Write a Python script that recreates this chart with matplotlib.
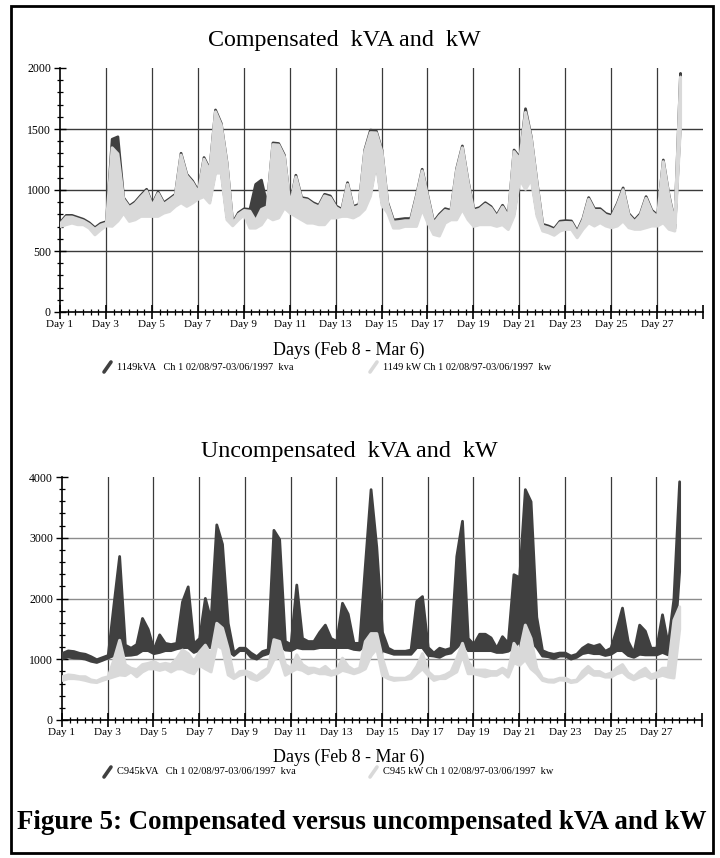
import numpy as np
import matplotlib.pyplot as plt
from matplotlib.ticker import MultipleLocator, FixedLocator
from matplotlib.lines import Line2D
from matplotlib.patches import Rectangle

plt.rcParams['font.family'] = ['Liberation Serif', 'DejaVu Serif']

# time axis: every 6 hours, Day 1 -> Day 28
days = np.arange(1, 28.001, 0.25)

# each series given as low / high envelope over the 6 h bins
# compensated (meter 1149)
top_kva_hi = [740, 796, 796, 780, 764, 736, 695, 730, 745, 1420, 1440, 940,
              873, 906, 960, 1010, 887, 988, 900, 933, 969, 1305, 1133, 1078,
              996, 1270, 1174, 1660, 1550, 1229, 736, 818, 850, 845, 1050, 1085,
              880, 1390, 1385, 1290, 887, 1125, 942, 933, 900, 879, 969, 955,
              873, 846, 1064, 868, 887, 1332, 1495, 1488, 1330, 900, 758, 764,
              770, 770, 960, 1174, 955, 742, 805, 851, 838, 1179, 1365, 1078,
              846, 860, 900, 868, 797, 879, 797, 1332, 1270, 1670, 1440, 1070,
              723, 709, 688, 748, 753, 750, 668, 770, 942, 851, 851, 811,
              797, 895, 1021, 810, 758, 810, 950, 838, 797, 1250, 960, 742,
              1960]
top_kva_lo = [725, 740, 750, 740, 740, 710, 655, 700, 730, 730, 770, 835,
              765, 780, 805, 805, 805, 805, 835, 845, 890, 920, 890, 915,
              950, 970, 915, 1160, 1160, 780, 730, 780, 820, 710, 760, 790,
              805, 780, 795, 875, 835, 805, 780, 750, 750, 740, 740, 795,
              795, 805, 805, 795, 820, 865, 975, 1245, 900, 835, 712, 712,
              725, 725, 725, 865, 750, 660, 645, 750, 780, 780, 865, 780,
              725, 740, 740, 740, 725, 740, 700, 810, 1110, 1030, 1110, 810,
              688, 674, 653, 688, 700, 700, 633, 700, 755, 730, 755, 730,
              715, 730, 770, 715, 700, 700, 715, 730, 730, 755, 700, 688,
              1550]
top_kw_hi = [728, 782, 782, 766, 750, 722, 682, 716, 732, 1350, 1300, 926,
             860, 892, 946, 995, 873, 975, 886, 920, 955, 1290, 1120, 1064,
             982, 1256, 1160, 1645, 1535, 1215, 722, 804, 836, 830, 750, 845,
             866, 1376, 1372, 1276, 873, 1110, 928, 920, 886, 865, 955, 940,
             860, 832, 1050, 855, 873, 1318, 1474, 1472, 1316, 886, 740, 745,
             752, 752, 946, 1160, 940, 728, 790, 836, 824, 1165, 1350, 1064,
             832, 846, 886, 854, 783, 865, 783, 1318, 1256, 1640, 1426, 1056,
             708, 694, 674, 734, 738, 736, 654, 756, 928, 836, 836, 796,
             783, 880, 1006, 796, 744, 796, 936, 824, 783, 1236, 946, 728,
             1930]
top_kw_lo = [705, 720, 733, 720, 720, 692, 637, 678, 711, 707, 750, 815,
             747, 760, 788, 788, 788, 788, 815, 828, 870, 900, 870, 897,
             930, 950, 897, 1143, 1143, 760, 711, 760, 800, 692, 692, 719,
             788, 760, 775, 858, 815, 788, 760, 733, 733, 720, 720, 775,
             775, 788, 788, 775, 800, 846, 955, 1228, 880, 815, 692, 692,
             706, 706, 706, 846, 733, 640, 627, 733, 760, 760, 846, 760,
             706, 720, 720, 720, 706, 720, 680, 791, 1092, 1010, 1092, 791,
             668, 654, 633, 668, 682, 682, 613, 682, 736, 709, 736, 709,
             695, 709, 750, 695, 682, 682, 695, 709, 709, 736, 682, 668,
             1530]

# uncompensated (meter C945)
bot_kva_hi = [1105, 1145, 1135, 1105, 1090, 1050, 1000, 1035, 1070, 1900, 2700, 1240,
              1190, 1250, 1680, 1500, 1165, 1410, 1270, 1250, 1270, 1950, 2200, 1260,
              1350, 2010, 1650, 3220, 2900, 1600, 1110, 1190, 1190, 1110, 1050, 1135,
              1165, 3130, 2980, 1300, 1250, 2230, 1350, 1300, 1300, 1450, 1570, 1350,
              1300, 1930, 1750, 1270, 1270, 2550, 3800, 2850, 1450, 1190, 1140, 1140,
              1140, 1160, 1960, 2040, 1200, 1110, 1190, 1160, 1190, 2700, 3280, 1350,
              1250, 1420, 1420, 1360, 1190, 1380, 1270, 2400, 2350, 3800, 3600, 1700,
              1150, 1110, 1090, 1110, 1110, 1060, 1090, 1190, 1250, 1220, 1250, 1140,
              1190, 1500, 1850, 1300, 1110, 1570, 1470, 1190, 1190, 1740, 1250, 2000,
              3930]
bot_kva_lo = [1020, 1045, 1030, 1025, 1010, 975, 955, 990, 1030, 1070, 1200, 1070,
              1075, 1090, 1150, 1150, 1100, 1120, 1150, 1150, 1180, 1200, 1200, 1120,
              1160, 1200, 1200, 1300, 1300, 1150, 1070, 1150, 1150, 1040, 1010, 1070,
              1100, 1250, 1250, 1160, 1150, 1200, 1180, 1180, 1180, 1200, 1200, 1200,
              1200, 1200, 1200, 1170, 1160, 1250, 1400, 1400, 1150, 1120, 1090, 1090,
              1090, 1090, 1200, 1200, 1070, 1060, 1040, 1090, 1110, 1200, 1300, 1150,
              1150, 1150, 1150, 1150, 1120, 1120, 1140, 1200, 1300, 1500, 1300, 1200,
              1060, 1050, 1020, 1060, 1060, 1010, 1040, 1100, 1120, 1100, 1100, 1070,
              1090, 1150, 1150, 1070, 1040, 1090, 1080, 1080, 1080, 1120, 1080, 1100,
              2450]
bot_kw_hi = [720, 750, 740, 720, 720, 667, 650, 695, 720, 1000, 1320, 920,
             860, 835, 920, 940, 970, 920, 940, 920, 1020, 1160, 1100, 970,
             1130, 1240, 1080, 1600, 1520, 1180, 720, 805, 815, 780, 720, 805,
             860, 1330, 1300, 920, 860, 1080, 920, 860, 860, 830, 890, 805,
             830, 1025, 890, 830, 860, 1300, 1430, 1430, 1020, 720, 695, 695,
             695, 750, 890, 1100, 805, 720, 720, 750, 805, 1020, 1270, 970,
             830, 830, 830, 805, 805, 860, 805, 1270, 1130, 1570, 1350, 860,
             695, 665, 665, 695, 695, 650, 665, 805, 890, 805, 805, 750,
             780, 860, 920, 780, 720, 805, 860, 750, 780, 860, 860, 1650,
             1870]
bot_kw_lo = [660, 690, 690, 680, 660, 635, 625, 660, 690, 720, 750, 740,
             800, 720, 800, 850, 850, 825, 850, 800, 850, 850, 800, 770,
             910, 850, 800, 1240, 1180, 750, 690, 745, 770, 690, 660, 715,
             800, 1000, 1050, 745, 800, 850, 825, 770, 800, 770, 770, 745,
             770, 825, 800, 770, 800, 850, 1070, 1180, 740, 690, 660, 670,
             675, 690, 770, 850, 745, 660, 690, 690, 745, 800, 1070, 770,
             770, 745, 720, 745, 745, 800, 715, 950, 910, 1000, 850, 770,
             660, 635, 630, 670, 660, 625, 640, 715, 800, 745, 745, 715,
             715, 770, 800, 715, 670, 715, 745, 690, 715, 745, 715, 700,
             1500]

day_ticks = list(range(1, 30, 2))
day_labels = ['Day %d' % d for d in day_ticks[:-1]] + ['']

DARK = '#404040'
LIGHT = '#d9d9d9'
W, H = 720, 858

fig = plt.figure(figsize=(7.2, 8.58), dpi=100)


def fx(px):
    return px / W


def fy(py):
    return 1 - py / H


def panel(left, right, top, bottom, kva_lo, kva_hi, kw_lo, kw_hi, ymax, hcol):
    ax = fig.add_axes([fx(left), fy(bottom), fx(right - left), (bottom - top) / H])
    ax.fill_between(days, kva_lo, kva_hi, facecolor=DARK, edgecolor=DARK, lw=2.0, zorder=3)
    ax.fill_between(days, kw_lo, kw_hi, facecolor=LIGHT, edgecolor=LIGHT, lw=2.2, zorder=4)
    ax.set_xlim(1, 29)
    ax.set_ylim(0, ymax)
    for s in ['top', 'right']:
        ax.spines[s].set_visible(False)
    for s in ['left', 'bottom']:
        ax.spines[s].set_linewidth(1.2)
    # grid
    for d in day_ticks[1:-1]:
        ax.axvline(d, color='#3a3a3a', lw=0.9, zorder=1)
    for v in np.arange(ymax / 4, ymax, ymax / 4):
        ax.axhline(v, color=hcol, lw=1.0, zorder=1)
    ax.xaxis.set_major_locator(FixedLocator(day_ticks))
    ax.set_xticklabels(day_labels)
    ax.xaxis.set_minor_locator(MultipleLocator(1 / 3))
    ax.yaxis.set_major_locator(MultipleLocator(ymax / 4))
    ax.yaxis.set_minor_locator(MultipleLocator(ymax / 20))
    ax.tick_params(axis='x', which='major', direction='inout', length=10, width=1.2,
                   labelsize=8, pad=1)
    ax.tick_params(axis='x', which='minor', direction='inout', length=5, width=0.9)
    ax.tick_params(axis='y', which='major', direction='inout', length=9, width=1,
                   labelsize=8.5, pad=2)
    ax.tick_params(axis='y', which='minor', direction='inout', length=5, width=0.9)
    ax.patch.set_alpha(0)
    return ax


def legend_row(py, name):
    fig.add_artist(Line2D([fx(104), fx(111)], [fy(py + 5), fy(py - 5)], color=DARK,
                          lw=2.6, solid_capstyle='round', transform=fig.transFigure))
    fig.text(fx(117), fy(py), name + 'kVA   Ch 1 02/08/97-03/06/1997  kva',
             fontsize=7.5, va='center', ha='left')
    fig.add_artist(Line2D([fx(370), fx(377)], [fy(py + 5), fy(py - 5)], color=LIGHT,
                          lw=2.6, solid_capstyle='round', transform=fig.transFigure))
    fig.text(fx(383), fy(py), name + ' kW Ch 1 02/08/97-03/06/1997  kw',
             fontsize=7.5, va='center', ha='left')


# compensated panel
panel(60, 703, 68, 312, top_kva_lo, top_kva_hi, top_kw_lo, top_kw_hi, 2000, '#3a3a3a')
fig.text(fx(344), fy(46), 'Compensated  kVA and  kW', fontsize=17.3, ha='center', va='baseline')
fig.text(fx(349), fy(350), 'Days (Feb 8 - Mar 6)', fontsize=12.9, ha='center', va='center')
legend_row(367, '1149')

# uncompensated panel
panel(62, 702, 477, 720, bot_kva_lo, bot_kva_hi, bot_kw_lo, bot_kw_hi, 4000, '#8c8c8c')
fig.text(fx(349), fy(457), 'Uncompensated  kVA and  kW', fontsize=17.3, ha='center', va='baseline')
fig.text(fx(349), fy(757), 'Days (Feb 8 - Mar 6)', fontsize=12.9, ha='center', va='center')
legend_row(772, 'C945')

fig.text(fx(362), fy(829), 'Figure 5: Compensated versus uncompensated kVA and kW',
         fontsize=19.4, fontweight='bold', ha='center', va='baseline')

# frame around the whole figure
fig.add_artist(Rectangle((fx(11), fy(853)), fx(702), (853 - 6) / H, fill=False,
                         lw=2, ec='black', transform=fig.transFigure))

fig.savefig('out.png', dpi=100)
